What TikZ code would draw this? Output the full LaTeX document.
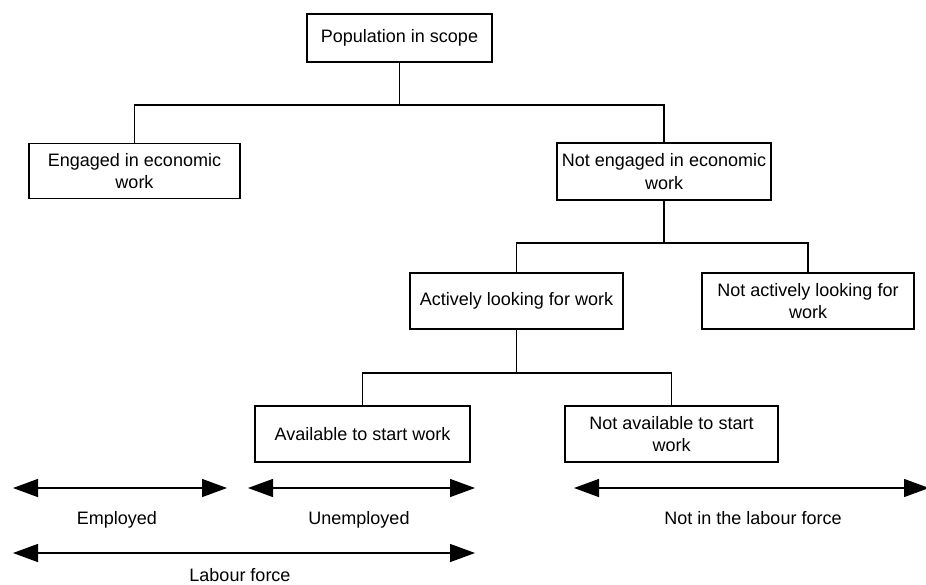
\documentclass[tikz,border=0pt]{standalone}
\usepackage{fontspec}
\setmainfont{Liberation Sans}
\usetikzlibrary{arrows.meta}
\begin{document}
\begin{tikzpicture}[x=1pt,y=-1pt,
  box/.style={draw, line width=1.3pt, align=center, inner sep=0pt, font=\fontsize{18}{22.5}\selectfont},
  lbl/.style={inner sep=0pt, anchor=base, font=\fontsize{18}{22.5}\selectfont},
  conn/.style={line width=1.3pt},
  span/.style={line width=1.3pt, {Triangle[length=25pt,width=18pt]}-{Triangle[length=25pt,width=18pt]}}]
\useasboundingbox (0,0) rectangle (926,584);
\node[box, minimum width=185pt, minimum height=48pt] (pop) at (399.5,38) {Population in scope};
\node[box, minimum width=211pt, minimum height=55pt] (eng) at (134.5,171) {Engaged in economic\\work};
\node[box, minimum width=214pt, minimum height=57pt] (neng) at (664,171.5) {Not engaged in economic\\work};
\node[box, minimum width=213pt, minimum height=56pt] (act) at (516.5,301) {Actively looking for work};
\node[box, minimum width=212pt, minimum height=56pt] (nact) at (808,301) {Not actively looking for\\work};
\node[box, minimum width=215pt, minimum height=56pt] (avail) at (362.5,434) {Available to start work};
\node[box, minimum width=213pt, minimum height=56pt] (navail) at (671.5,434) {Not available to start\\work};
\draw[conn] (pop.south) |- (134.5,105) -- (eng.north);
\draw[conn] (pop.south) |- (664,105) -- (neng.north);
\draw[conn] (neng.south) |- (516.5,243) -- (act.north);
\draw[conn] (neng.south) |- (808,243) -- (nact.north);
\draw[conn] (act.south) |- (362.5,373) -- (avail.north);
\draw[conn] (act.south) |- (671.5,373) -- (navail.north);
\coordinate (e1) at (13,488); \coordinate (e2) at (227,488);
\coordinate (u1) at (248,488); \coordinate (u2) at (475,488);
\coordinate (l1) at (13,553); \coordinate (l2) at (475,553);
\coordinate (n1) at (574,488); \coordinate (n2) at (929,488);
\draw[span] (e1) -- (e2);
\draw[span] (u1) -- (u2);
\draw[span] (l1) -- (l2);
\draw[span] (n1) -- (n2);
\node[lbl] (emp) at (117,524) {Employed};
\node[lbl] (unemp) at (359,524) {Unemployed};
\node[lbl] (lab) at (240,581) {Labour force};
\node[lbl] (nilf) at (753,524) {Not in the labour force};
\end{tikzpicture}
\end{document}
